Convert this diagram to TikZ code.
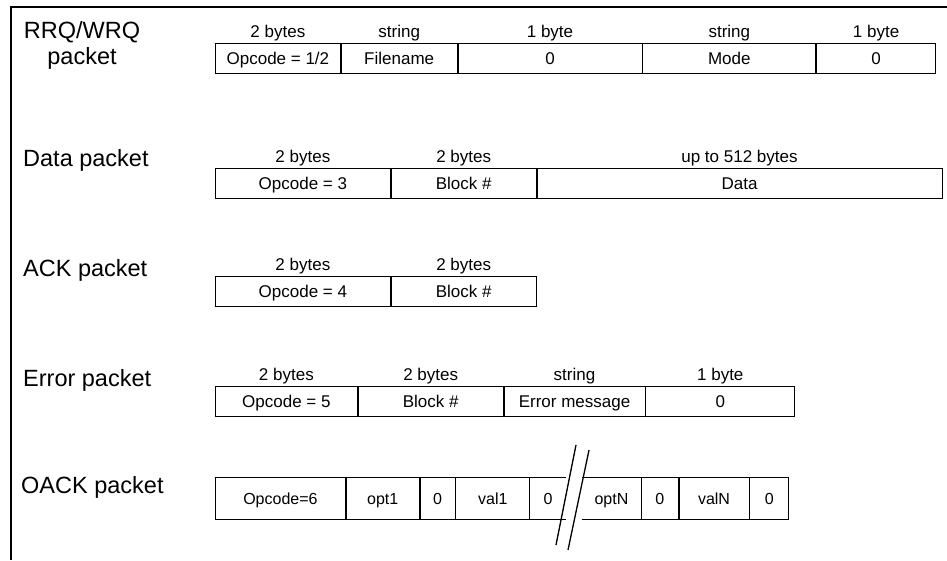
\documentclass[tikz,border=0pt]{standalone}
\usepackage{fontspec}
\setmainfont{Liberation Sans}
\usetikzlibrary{positioning}
\newcommand{\cellfont}{\fontsize{17}{20}\selectfont}
\newcommand{\smallcellfont}{\fontsize{16}{19}\selectfont}
\newcommand{\pktfont}{\fontsize{23.5}{26}\selectfont}
\begin{document}
\begin{tikzpicture}[
            x=1pt, y=-1pt,
            field/.style={draw, line width=0.8pt, minimum height=30pt, inner sep=0pt,
                text height=15pt, text depth=3pt, font=\cellfont},
            optfield/.style={field, minimum height=42pt, text height=14pt, text depth=2.8pt, font=\smallcellfont},
            openfield/.style={optfield, draw=none},
            edge/.style={line width=0.8pt},
            hdr/.style={font=\cellfont, inner sep=0pt},
            every label/.style={hdr},
            label distance=2pt,
            pktname/.style={font=\pktfont, align=center, inner sep=0pt},
            brk/.style={line width=1.3pt}
        ]
        \useasboundingbox (0,0) rectangle (947,560);
        \draw[line width=1.5pt] (947,7) -- (11,7) -- (11,560);

        % RRQ/WRQ
        \node[pktname] (rrq) at (82,45) {RRQ/WRQ\\packet};
        \node[field, anchor=north west, minimum width=125pt, label=above:2 bytes] (rq1) at (215,43) {Opcode = 1/2};
        \node[field, minimum width=116pt, right=0pt of rq1, label=above:string] (rq2) {Filename};
        \node[field, minimum width=184pt, right=0pt of rq2, label=above:1 byte] (rq3) {0};
        \node[field, minimum width=173pt, right=0pt of rq3, label=above:string] (rq4) {Mode};
        \node[field, minimum width=119pt, right=0pt of rq4, label=above:1 byte] (rq5) {0};

        % Data
        \node[pktname, anchor=west] (data) at (23,160) {Data packet};
        \node[field, anchor=north west, minimum width=175pt, label=above:2 bytes] (dt1) at (215,168) {Opcode = 3};
        \node[field, minimum width=145pt, right=0pt of dt1, label=above:2 bytes] (dt2) {Block \#};
        \node[field, minimum width=405pt, right=0pt of dt2, label=above:up to 512 bytes] (dt3) {Data};

        % ACK
        \node[pktname, anchor=west] (ack) at (23,270) {ACK packet};
        \node[field, anchor=north west, minimum width=175pt, label=above:2 bytes] (ak1) at (215,276) {Opcode = 4};
        \node[field, minimum width=145pt, right=0pt of ak1, label=above:2 bytes] (ak2) {Block \#};

        % Error
        \node[pktname, anchor=west] (err) at (23,380) {Error packet};
        \node[field, anchor=north west, minimum width=142pt, label=above:2 bytes] (er1) at (215,386) {Opcode = 5};
        \node[field, minimum width=145pt, right=0pt of er1, label=above:2 bytes] (er2) {Block \#};
        \node[field, minimum width=141pt, right=0pt of er2, label=above:string] (er3) {Error message};
        \node[field, minimum width=149pt, right=0pt of er3, label=above:1 byte] (er4) {0};

        % OACK
        \node[pktname, anchor=west] (oack) at (21,487) {OACK packet};
        \node[optfield, anchor=north west, minimum width=130pt] (oa1) at (215,477) {Opcode=6};
        \node[optfield, minimum width=73pt, right=0pt of oa1] (oa2) {opt1};
        \node[optfield, minimum width=35pt, right=0pt of oa2] (oa3) {0};
        \node[optfield, minimum width=74pt, right=0pt of oa3] (oa4) {val1};
        \node[openfield, minimum width=35pt, right=0pt of oa4] (oa5) {0};
        \draw[edge] (oa5.north west) -- (oa5.north east);
        \draw[edge] (oa5.south west) -- (oa5.south east);

        \node[openfield, anchor=north west, minimum width=58pt] (ob1) at (582,477) {optN};
        \draw[edge] (ob1.north west) -- (ob1.north east);
        \draw[edge] (ob1.south west) -- (ob1.south east);
        \node[optfield, minimum width=37pt, right=0pt of ob1] (ob2) {0};
        \node[optfield, minimum width=70pt, right=0pt of ob2] (ob3) {valN};
        \node[optfield, minimum width=39pt, right=0pt of ob3] (ob4) {0};

        % break marks
        \coordinate (S1a) at (556,545);
        \coordinate (S1b) at (576,445);
        \coordinate (S2a) at (568,550);
        \coordinate (S2b) at (589,450);
        \draw[brk] (S1a) -- (S1b);
        \draw[brk] (S2a) -- (S2b);

    \end{tikzpicture}
\end{document}
